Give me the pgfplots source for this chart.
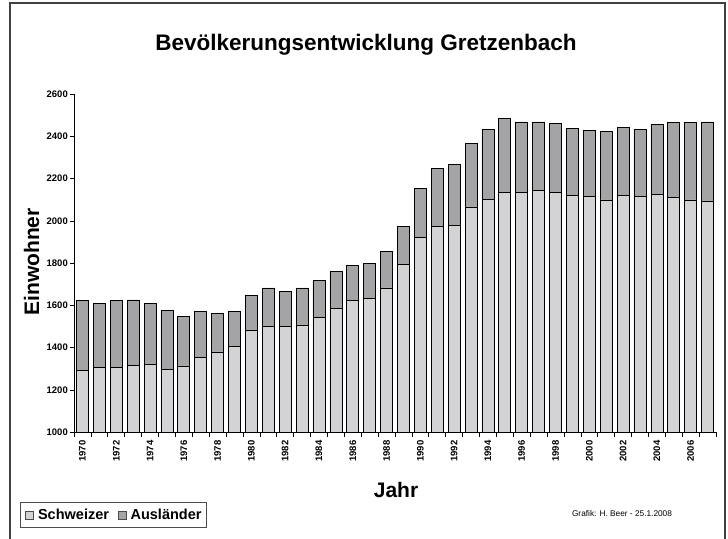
\documentclass[border=0pt]{standalone}
\usepackage{pgfplots}
\pgfplotsset{compat=1.18}
\usepackage{pgfplotstable}
\usepackage{fontspec}
\setmainfont{Liberation Sans}
\definecolor{schw}{RGB}{211,211,213}
\definecolor{ausl}{RGB}{164,164,166}
\pgfplotstableread{
year schweizer auslaender
1970 1292 331
1971 1306 304
1972 1306 317
1973 1317 309
1974 1320 290
1975 1296 279
1976 1314 235
1977 1353 218
1978 1380 181
1979 1405 166
1980 1484 165
1981 1503 180
1982 1500 167
1983 1508 175
1984 1544 175
1985 1585 175
1986 1623 167
1987 1634 164
1988 1683 174
1989 1793 180
1990 1922 232
1991 1973 274
1992 1980 287
1993 2066 301
1994 2103 328
1995 2133 350
1996 2133 335
1997 2143 325
1998 2133 327
1999 2122 317
2000 2114 312
2001 2099 323
2002 2119 323
2003 2114 320
2004 2127 329
2005 2111 353
2006 2099 365
2007 2094 374
}\data
\begin{document}
\begin{tikzpicture}[x=1pt,y=1pt]
\useasboundingbox (0,0) rectangle (728,538);
\fill[white] (0,0) rectangle (728,538);
\draw[line width=1.3pt, black!75] (10,-2) -- (10,535) -- (725,535) -- (725,-2);
\begin{axis}[
  at={(74pt,105.7pt)}, anchor=south west,
  scale only axis, width=642pt, height=338.3pt,
  ybar stacked, bar width=0.71,
  xmin=1969.5, xmax=2007.5, ymin=1000, ymax=2600,
  axis x line*=bottom, axis y line*=left,
  axis line style={black, line width=0.8pt, -},
  /pgf/number format/1000 sep={},
  /pgf/number format/assume math mode=true,
  xtick={1970,1972,...,2006},
  minor xtick={1969.5,1970.5,...,2007.5},
  every major x tick/.append style={draw=none},
  ytick={1000,1200,...,2600},
  tick align=outside,
  major tick length=4pt, minor tick length=4.5pt,
  tick style={black, line width=0.6pt},
  xticklabel shift=4pt,
  xticklabel style={rotate=90, anchor=east, inner sep=0pt,
    font=\bfseries\fontsize{9.5}{10}\selectfont},
  yticklabel style={inner sep=0pt, xshift=-2pt,
    font=\bfseries\fontsize{9.5}{10}\selectfont},
  legend columns=2,
  legend style={at={(axis description cs:-0.084,-0.206)}, anchor=north west,
    draw=black!70, line width=0.8pt, inner xsep=5pt, inner ysep=6.5pt,
    font=\bfseries\fontsize{14.5}{16}\selectfont,
    nodes={inner sep=0pt},
    /tikz/every odd column/.append style={column sep=4pt},
    /tikz/every even column/.append style={column sep=9pt}},
  legend image code/.code={\draw[#1, draw=black!70, line width=0.6pt] (0pt,-4pt) rectangle (8pt,4pt);},
  clip=true,
]
\addplot[fill=schw, draw=black, line width=0.7pt] table[x=year, y=schweizer] {\data};
\addlegendentry{Schweizer}
\addplot[fill=ausl, draw=black, line width=0.7pt] table[x=year, y=auslaender] {\data};
\addlegendentry{Ausländer}
\end{axis}
\node[anchor=base, font=\bfseries\fontsize{22.5}{24}\selectfont] at (366,487) {Bevölkerungsentwicklung Gretzenbach};
\node[anchor=base, rotate=90, font=\bfseries\fontsize{21}{24}\selectfont] at (39,276) {Einwohner};
\node[anchor=base, font=\bfseries\fontsize{21}{24}\selectfont] at (396,40) {Jahr};
\node[anchor=base, font=\fontsize{8.3}{10}\selectfont] at (622,21) {Grafik: H. Beer - 25.1.2008};
\end{tikzpicture}
\end{document}
